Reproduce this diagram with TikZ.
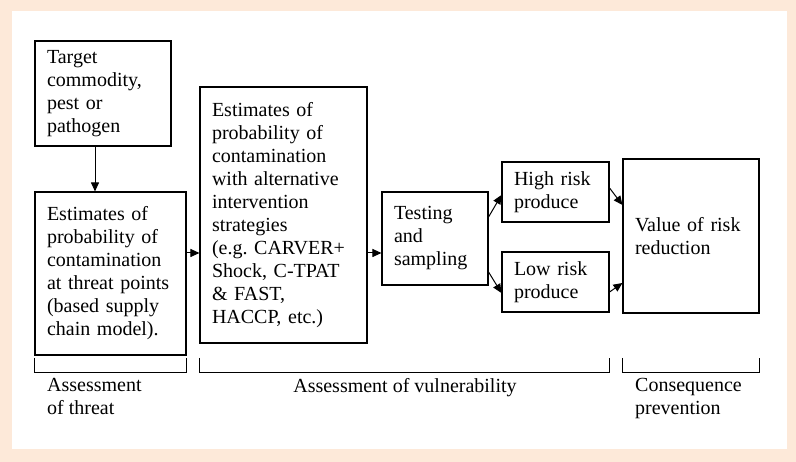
\documentclass[tikz,border=0pt]{standalone}
\usepackage{fontspec}
\setmainfont{Liberation Serif}
\usetikzlibrary{arrows.meta,positioning,calc}
\definecolor{peach}{RGB}{253,233,217}

\begin{document}
\begin{tikzpicture}[
  x=1pt, y=-1pt,
  font=\fontsize{20}{23}\selectfont,
  box/.style={draw, line width=1.1pt, inner xsep=12pt, inner ysep=0pt, align=left},
  arrow/.style={-{Triangle[length=9pt,width=8pt]}, line width=1pt},
  bracket/.style={line width=1pt},
  phase/.style={inner sep=0pt, align=left},
]

% --- Frame ---
\fill[peach] (0,0) rectangle (796,462);
\fill[white] (12,11) rectangle (787,449);
\useasboundingbox (0,0) rectangle (796,462);

% --- Threat ---
\node[box, text width=112pt, minimum height=105pt] (target) at (103,93.5) {Target\\commodity,\\pest or\\pathogen};
\node[box, text width=127pt, minimum height=163pt] (threat) at (110.5,273.5) {Estimates of\\probability of\\contamination\\at threat points\\(based supply\\chain model).};

% --- Vulnerability ---
\node[box, text width=143pt, minimum height=256pt] (alt) at (283.5,215) {Estimates of\\probability of\\contamination\\with alternative\\intervention\\strategies\\(e.g.\ CARVER+\\Shock, C-TPAT\\\& FAST,\\HACCP, etc.)};
\node[box, text width=82pt, minimum height=93pt] (testing) at (435,238.5) {Testing\\and\\sampling};
\node[box, text width=83pt, minimum height=60pt] (high) at (555.5,192) {High risk\\produce};
\node[box, text width=83pt, minimum height=60pt] (low) at (555.5,282) {Low risk\\produce};

% --- Consequence ---
\node[box, text width=112pt, minimum height=154pt] (value) at (691,236) {Value of risk\\reduction};

% --- Arrows ---
\draw[arrow] ([xshift=-8pt]target.south) -- ([xshift=-15.5pt]threat.north);
\draw[arrow] ([yshift=20.5pt]threat.east) -- ([yshift=-38pt]alt.west);
\draw[arrow] ([yshift=-38pt]alt.east) -- ([yshift=-14.5pt]testing.west);
\draw[arrow] ([yshift=21.5pt]testing.east) -- ([yshift=-3pt]high.west);
\draw[arrow] ([yshift=-33.5pt]testing.east) -- ([yshift=-11pt]low.west);
\draw[arrow] ([yshift=4pt]high.east) -- ([yshift=31pt]value.west);
\draw[arrow] ([yshift=-10pt]low.east) -- ([yshift=-47pt]value.west);

% --- Brackets ---
\coordinate (brtop) at (0,358);
\coordinate (brbot) at (0,373);
\draw[bracket] (threat.west |- brtop) -- (threat.west |- brbot) -- (threat.east |- brbot) -- (threat.east |- brtop);
\draw[bracket] (alt.west |- brtop) -- (alt.west |- brbot) -- (low.east |- brbot) -- (low.east |- brtop);
\draw[bracket] (value.west |- brtop) -- (value.west |- brbot) -- (value.east |- brbot) -- (value.east |- brtop);

% --- Phase labels ---
\node[phase, anchor=north west] (threatlbl) at (47,378.5) {Assessment\\of threat};
\node[phase, anchor=north] (vulnlbl) at (405,378.5) {Assessment of vulnerability};
\node[phase, anchor=north west] (conslbl) at (635,378.5) {Consequence\\prevention};

\end{tikzpicture}
\end{document}
